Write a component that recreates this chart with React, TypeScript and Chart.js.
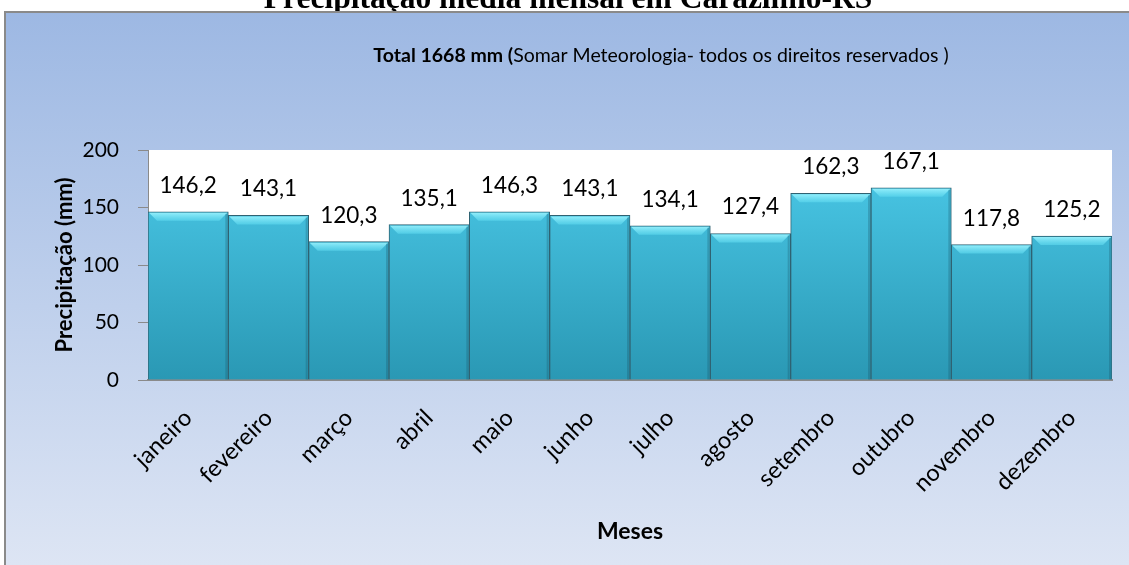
import React, { useEffect, useRef } from "react";
import { Chart, registerables } from "chart.js";

Chart.register(...registerables);

const months = [
  "janeiro", "fevereiro", "março", "abril", "maio", "junho",
  "julho", "agosto", "setembro", "outubro", "novembro", "dezembro",
];
const precipitation = [146.2, 143.1, 120.3, 135.1, 146.3, 143.1, 134.1, 127.4, 162.3, 167.1, 117.8, 125.2];
const yMin = 0;
const yMax = 200;
const yStep = 50;
const chartTitle = "Precipitação média mensal em Carazinho-RS";
const subtitleBold = "Total 1668 mm (";
const subtitleRest = "Somar Meteorologia- todos os direitos reservados )";
const yAxisTitle = "Precipitação (mm)";
const xAxisTitle = "Meses";

const FONT = "Lato";

const backgroundPlugin = {
  id: "bgBox",
  beforeDraw(chart: any) {
    const { ctx, width, height, chartArea } = chart;
    ctx.save();
    // title (cut off at top, sits above the chart frame)
    ctx.fillStyle = "#000";
    ctx.textAlign = "center";
    ctx.textBaseline = "alphabetic";
    ctx.font = "bold 31.5px 'Liberation Serif'";
    ctx.fillText(chartTitle, 568, 8);

    const g = ctx.createLinearGradient(0, 12, 0, height);
    g.addColorStop(0, "#9db8e3");
    g.addColorStop(1, "#dde5f4");
    ctx.fillStyle = g;
    ctx.fillRect(4, 12, width - 4, height - 12);
    ctx.strokeStyle = "#8a8a8a";
    ctx.lineWidth = 2;
    ctx.beginPath();
    ctx.moveTo(5, height);
    ctx.lineTo(5, 12);
    ctx.lineTo(width, 12);
    ctx.stroke();
    // plot area
    ctx.fillStyle = "#ffffff";
    ctx.fillRect(chartArea.left, chartArea.top, chartArea.right - chartArea.left, chartArea.bottom - chartArea.top);
    // subtitle mixed bold / regular
    ctx.fillStyle = "#000";
    ctx.textAlign = "left";
    ctx.font = `bold 19.5px ${FONT}`;
    const wb = ctx.measureText(subtitleBold).width;
    ctx.font = `19.5px ${FONT}`;
    const wr = ctx.measureText(subtitleRest).width;
    const startX = 661 - (wb + wr) / 2;
    ctx.font = `bold 19.5px ${FONT}`;
    ctx.fillText(subtitleBold, startX, 62);
    ctx.font = `19.5px ${FONT}`;
    ctx.fillText(subtitleRest, startX + wb, 62);
    ctx.restore();
  },
};

const bevelPlugin = {
  id: "bevel",
  afterDatasetsDraw(chart: any) {
    const { ctx } = chart;
    const meta = chart.getDatasetMeta(0);
    ctx.save();
    meta.data.forEach((bar: any) => {
      const { x, y, width, base } = bar.getProps(["x", "y", "width", "base"], true);
      const left = x - width / 2;
      const right = x + width / 2;
      const h = 9;
      const g = ctx.createLinearGradient(0, y, 0, y + h);
      g.addColorStop(0, "rgba(160,245,255,0.95)");
      g.addColorStop(1, "rgba(95,218,240,0.6)");
      ctx.fillStyle = g;
      ctx.beginPath();
      ctx.moveTo(left + 1, y + 1);
      ctx.lineTo(right - 1, y + 1);
      ctx.lineTo(right - h, y + h);
      ctx.lineTo(left + h, y + h);
      ctx.closePath();
      ctx.fill();
      // subtle right-side shading
      ctx.fillStyle = "rgba(20,70,90,0.25)";
      ctx.fillRect(right - 3, y + 2, 2, base - y - 2);
    });
    ctx.restore();
  },
};

const dataLabelPlugin = {
  id: "dataLabels",
  afterDatasetsDraw(chart: any) {
    const { ctx } = chart;
    const meta = chart.getDatasetMeta(0);
    const values = chart.data.datasets[0].data as number[];
    ctx.save();
    ctx.fillStyle = "#000";
    ctx.font = `22.5px ${FONT}`;
    ctx.textAlign = "center";
    ctx.textBaseline = "alphabetic";
    meta.data.forEach((bar: any, i: number) => {
      const { x, y } = bar.getProps(["x", "y"], true);
      ctx.fillText(values[i].toFixed(1).replace(".", ","), x, y - 19);
    });
    ctx.restore();
  },
};

export default function App() {
  const canvasRef = useRef<HTMLCanvasElement | null>(null);

  useEffect(() => {
    const canvas = canvasRef.current;
    if (!canvas) return;
    const chart = new Chart(canvas, {
      type: "bar",
      data: {
        labels: months,
        datasets: [
          {
            data: precipitation,
            backgroundColor: (c: any) => {
              const area = c.chart.chartArea;
              if (!area) return "#3ab4d4";
              const g = c.chart.ctx.createLinearGradient(0, area.top, 0, area.bottom);
              g.addColorStop(0, "#4ccbea");
              g.addColorStop(1, "#2a98b4");
              return g;
            },
            borderColor: "#2f6272",
            borderWidth: 1,
            categoryPercentage: 1,
            barPercentage: 1,
          },
        ],
      },
      options: {
        responsive: false,
        animation: false,
        events: [],
        layout: { padding: { left: 48, right: 17, top: 150, bottom: 20 } },
        plugins: {
          legend: { display: false },
          title: { display: false },
          tooltip: { enabled: false },
        },
        scales: {
          x: {
            grid: { display: false },
            border: { display: true, color: "#8a8a8a", width: 2 },
            ticks: {
              color: "#000",
              font: { family: FONT, size: 23.5 },
              minRotation: 45,
              maxRotation: 45,
              padding: 16,
            },
            title: {
              display: true,
              text: xAxisTitle,
              color: "#000",
              font: { family: FONT, size: 23, weight: "bold" },
              padding: { top: 0, bottom: 0 },
            },
            afterFit: (scale: any) => {
              scale.height = 165;
            },
          },
          y: {
            min: yMin,
            max: yMax,
            grid: { display: true, drawOnChartArea: false, drawTicks: true, tickLength: 10, color: "#8a8a8a" },
            border: { display: true, color: "#8a8a8a", width: 1 },
            ticks: {
              stepSize: yStep,
              color: "#000",
              font: { family: FONT, size: 21 },
              padding: 19,
            },
            title: {
              display: true,
              text: yAxisTitle,
              color: "#000",
              font: { family: FONT, size: 22, weight: "bold" },
              padding: { top: 4, bottom: 0 },
            },
            afterFit: (scale: any) => {
              scale.width = 100;
            },
          },
        },
      },
      plugins: [backgroundPlugin, bevelPlugin, dataLabelPlugin],
    });
    return () => chart.destroy();
  }, []);

  return (
    <div style={{ position: "absolute", left: 0, top: 0, width: 1129, height: 565 }}>
      <canvas ref={canvasRef} width={1129} height={565} style={{ display: "block" }} />
    </div>
  );
}
